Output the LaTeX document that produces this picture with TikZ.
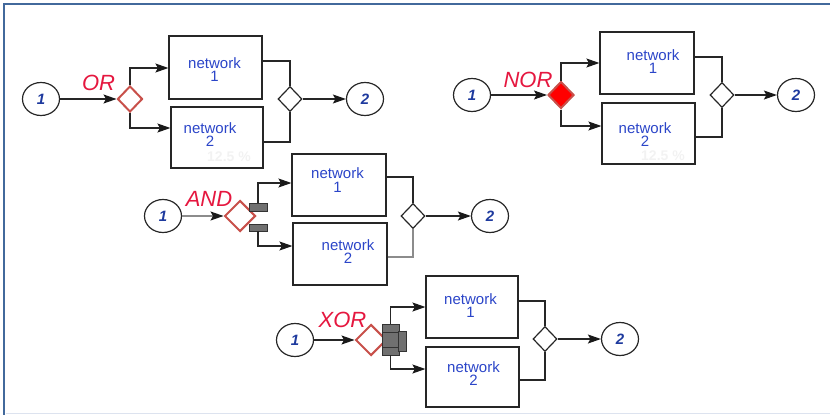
\documentclass[tikz,border=0pt]{standalone}
\usepackage{fontspec}
\setmainfont{Liberation Sans}
\usetikzlibrary{shapes.geometric,arrows.meta}
\definecolor{netblue}{HTML}{2B45C8}
\definecolor{numblue}{HTML}{1E3A9E}
\definecolor{gatered}{HTML}{C8504A}
\definecolor{lblred}{HTML}{E5173F}
\definecolor{frameblue}{HTML}{42699C}
\definecolor{barfill}{HTML}{707070}
\definecolor{framelight}{HTML}{DDE3EF}
\tikzset{
  netbox/.style={draw=black!85,line width=1.2pt,rectangle,inner sep=0pt},
  nettext/.style={text=netblue,align=center,inner sep=0pt,font=\fontsize{15}{13.5}\selectfont},
  faint/.style={text=black!5,inner sep=0pt,font=\fontsize{14}{14}\selectfont\bfseries},
  endpt/.style={draw=black!85,line width=1.2pt,ellipse,minimum width=37pt,minimum height=33pt,inner sep=0pt,text=numblue,font=\fontsize{15}{15}\selectfont\bfseries\itshape},
  gate/.style={diamond,draw=gatered,line width=2pt,inner sep=0pt},
  merge/.style={diamond,draw=black!85,line width=1.2pt,inner sep=0pt,minimum width=24pt,minimum height=25pt},
  gatelbl/.style={text=lblred,inner sep=0pt,font=\fontsize{22}{22}\selectfont\itshape},
  bar/.style={rectangle,draw=black!80,fill=barfill,line width=0.8pt,inner sep=0pt},
  arr/.style={line width=1.1pt,draw=black!85,-{Stealth[length=13pt,width=9pt,inset=2.5pt,color=black!90]}},
  wire/.style={line width=1.1pt,draw=black!85},
}
\begin{document}
\begin{tikzpicture}[x=1pt,y=-1pt]
\useasboundingbox (0,0) rectangle (830,415);
% frame
\draw[framelight,line width=1pt] (6,413) -- (830,413);
\draw[frameblue,line width=2.6pt] (4,415) -- (4,4) -- (830,4);

% ---------------- OR ----------------
\node[endpt] (orA) at (41,99) {1};
\node[gate,minimum width=25pt,minimum height=26pt] (orG) at (130,99) {};
\node[gatelbl] (orL) at (98.5,83) {OR};
\node[netbox,minimum width=93pt,minimum height=63pt] (orB1) at (215.5,67.5) {};
\node[netbox,minimum width=92pt,minimum height=61pt] (orB2) at (217,137.5) {};
\node[nettext] (orT1) at (214.5,69.5) {network\\1};
\node[nettext] (orT2) at (210,134.5) {network\\2};
\node[faint] (orP) at (229,157) {12.5 \%};
\node[merge] (orM) at (290,99) {};
\node[endpt] (orZ) at (365,99) {2};
\draw[arr] (orA) -- (orG);
\draw[arr] (orG.north) |- (orB1.west |- 0,68);
\draw[arr] (orG.south) |- (orB2.west |- 0,128);
\draw[wire] (orB1.east |- 0,61) -| (orM.north);
\draw[wire] (orB2.east |- 0,142) -| (orM.south);
\draw[arr] (orM) -- (orZ);

% ---------------- NOR ----------------
\node[endpt] (noA) at (472,95) {1};
\node[gate,fill=red,minimum width=26pt,minimum height=27pt] (noG) at (561,95) {};
\node[gatelbl] (noL) at (528,79.5) {NOR};
\node[netbox,minimum width=94pt,minimum height=62pt] (noB1) at (647,63) {};
\node[netbox,minimum width=93pt,minimum height=61pt] (noB2) at (648.5,133.5) {};
\node[nettext] (noT1) at (653,61.5) {network\\1};
\node[nettext] (noT2) at (645,134.5) {network\\2};
\node[faint] (noP) at (663,156) {12.5 \%};
\node[merge] (noM) at (722,95) {};
\node[endpt] (noZ) at (796,95) {2};
\draw[arr] (noA) -- (noG);
\draw[arr] (noG.north) |- (noB1.west |- 0,63);
\draw[arr] (noG.south) |- (noB2.west |- 0,126);
\draw[wire] (noB1.east |- 0,57) -| (noM.north);
\draw[wire] (noB2.east |- 0,137) -| (noM.south);
\draw[arr] (noM) -- (noZ);

% ---------------- AND ----------------
\node[endpt] (anA) at (163,216) {1};
\node[gate,minimum width=31pt,minimum height=31pt] (anG) at (240,216) {};
\node[gatelbl] (anL) at (209,199) {AND};
\node[bar,minimum width=18pt,minimum height=8pt] (anP1) at (258,207) {};
\node[bar,minimum width=18pt,minimum height=7pt] (anP2) at (258,227.5) {};
\node[netbox,minimum width=94pt,minimum height=62pt] (anB1) at (339,185) {};
\node[netbox,minimum width=94pt,minimum height=62pt] (anB2) at (340,254) {};
\node[nettext] (anT1) at (337.5,180) {network\\1};
\node[nettext] (anT2) at (348,251.5) {network\\2};
\node[merge] (anM) at (413,216) {};
\node[endpt] (anZ) at (490,216) {2};
\draw[arr,draw=black!45] (anA) -- (anG);
\draw[arr] (anP1.north) |- (anB1.west |- 0,183);
\draw[arr] (anP2.south) |- (anB2.west |- 0,246);
\draw[wire] (anB1.east |- 0,177) -| (anM.north);
\draw[wire,draw=black!45] (anB2.east |- 0,257) -| (anM.south);
\draw[arr] (anM) -- (anZ);

% ---------------- XOR ----------------
\node[endpt] (xoA) at (295,340) {1};
\node[gate,minimum width=31pt,minimum height=31pt] (xoG) at (371,340) {};
\node[gatelbl] (xoL) at (342.5,320) {XOR};
\node[bar,minimum width=17pt,minimum height=31pt] (xoP) at (390.5,339.5) {};
\node[bar,minimum width=8pt,minimum height=20pt] (xoQ) at (402,341) {};
\draw[draw=black!80,line width=0.8pt] (xoP.west |- 0,332) -- (xoQ.west |- 0,332);
\draw[draw=black!80,line width=0.8pt] (xoP.west |- 0,347) -- (xoQ.west |- 0,347);
\node[netbox,minimum width=92pt,minimum height=62pt] (xoB1) at (472,307) {};
\node[netbox,minimum width=93pt,minimum height=60pt] (xoB2) at (472.5,377) {};
\node[nettext] (xoT1) at (470.5,305.5) {network\\1};
\node[nettext] (xoT2) at (473.5,373.5) {network\\2};
\node[merge] (xoM) at (545,339) {};
\node[endpt] (xoZ) at (620,339) {2};
\draw[arr] (xoA) -- (xoG);
\draw[arr] (xoP.north) |- (xoB1.west |- 0,307);
\draw[arr] (xoP.south) |- (xoB2.west |- 0,369);
\draw[wire] (xoB1.east |- 0,301) -| (xoM.north);
\draw[wire,line width=2pt] (xoB2.east |- 0,380) -| (xoM.south);
\draw[arr] (xoM) -- (xoZ);
\end{tikzpicture}
\end{document}
